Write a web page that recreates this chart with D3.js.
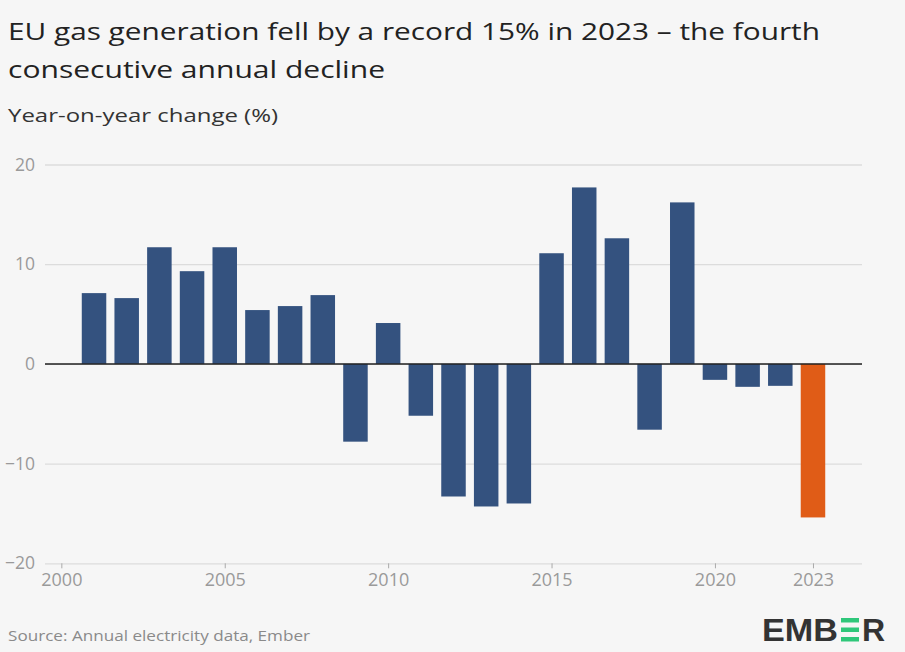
<!DOCTYPE html>
<html><head><meta charset="utf-8">
<script src="https://cdn.jsdelivr.net/npm/d3@7"></script>
<style>
html,body{margin:0;padding:0;background:#f6f6f6;}
svg{display:block;}
</style></head>
<body>
<svg id="chart" width="905" height="652"></svg>
<script>
const years = [2001,2002,2003,2004,2005,2006,2007,2008,2009,2010,2011,2012,2013,2014,2015,2016,2017,2018,2019,2020,2021,2022,2023];
const changes = [7.1,6.6,11.7,9.3,11.7,5.4,5.8,6.9,-7.8,4.1,-5.2,-13.3,-14.3,-14.0,11.1,17.7,12.6,-6.6,16.2,-1.6,-2.3,-2.2,-15.4];
const yTicks = [-20,-10,0,10,20];
const xTicks = [2000,2005,2010,2015,2020,2023];
const highlightYear = 2023;

const svg = d3.select("#chart");
const font = "'Open Sans', Roboto, sans-serif";

svg.append("rect").attr("width",905).attr("height",652).attr("fill","#f6f6f6");

const x = d3.scaleLinear().domain([1999.5, 2024.5]).range([45, 862]);
const y = d3.scaleLinear().domain([-20, 20]).range([563.3, 164.5]);
const barW = 24.5;

function txt(xp, yp, s, size, color, len){
  const t = svg.append("text").attr("x",xp).attr("y",yp).attr("font-family",font)
    .attr("font-size",size).attr("fill",color).text(s);
  if (len) t.attr("textLength",len).attr("lengthAdjust","spacingAndGlyphs");
  return t;
}

// title
txt(8, 40, "EU gas generation fell by a record 15% in 2023 – the fourth", 24, "#222", 812);
txt(8, 78, "consecutive annual decline", 24, "#222", 377);
txt(8, 122, "Year-on-year change (%)", 19, "#333", 270);

// gridlines + y labels
const yAxis = d3.axisLeft(y).tickValues(yTicks).tickSize(-(862-45)).tickFormat(d3.format("d"));
const gy = svg.append("g").attr("transform","translate(45,0)").call(yAxis);
gy.select(".domain").remove();
gy.selectAll(".tick line").attr("stroke","#dcdcdc").attr("stroke-width",1.3);
gy.selectAll(".tick text").attr("x",-10).attr("font-family",font).attr("font-size",17.5).attr("fill","#9a9a9a");

// x axis
const xAxis = d3.axisBottom(x).tickValues(xTicks).tickSize(5).tickPadding(5).tickFormat(d3.format("d"));
const gx = svg.append("g").attr("transform",`translate(0,${y(-20)})`).call(xAxis);
gx.select(".domain").remove();
gx.selectAll(".tick line").attr("stroke","#aaa");
gx.selectAll(".tick text").attr("font-family",font).attr("font-size",18).attr("fill","#9a9a9a");

// bars
svg.append("g").selectAll("rect").data(years).join("rect")
  .attr("x", d => x(d) - barW/2)
  .attr("width", barW)
  .attr("y", (d,i) => y(Math.max(0, changes[i])))
  .attr("height", (d,i) => Math.abs(y(changes[i]) - y(0)))
  .attr("fill", d => d === highlightYear ? "#e05c17" : "#34527f");

// zero line
svg.append("line").attr("x1",45).attr("x2",862).attr("y1",y(0)).attr("y2",y(0))
  .attr("stroke","#222").attr("stroke-width",1.5);

// source
txt(8, 641, "Source: Annual electricity data, Ember", 15, "#8a8a8a", 302);

// logo
const logoFont = "'Liberation Sans', Arial, sans-serif";
const logo = svg.append("g").attr("transform","translate(762,641)");
logo.append("text").attr("x",0).attr("y",0).attr("font-family",logoFont).attr("font-weight","bold")
  .attr("font-size",32).attr("fill","#333").attr("textLength",76).attr("lengthAdjust","spacingAndGlyphs").text("EMB");
const eX = 79, eW = 18;
[-23,-13.5,-4].forEach(dy => {
  logo.append("rect").attr("x",eX).attr("y",dy).attr("width",eW).attr("height",4.5).attr("fill","#2fc77a");
});
logo.append("text").attr("x",eX+eW+3).attr("y",0).attr("font-family",logoFont).attr("font-weight","bold")
  .attr("font-size",32).attr("fill","#333").text("R");
</script>
</body></html>
